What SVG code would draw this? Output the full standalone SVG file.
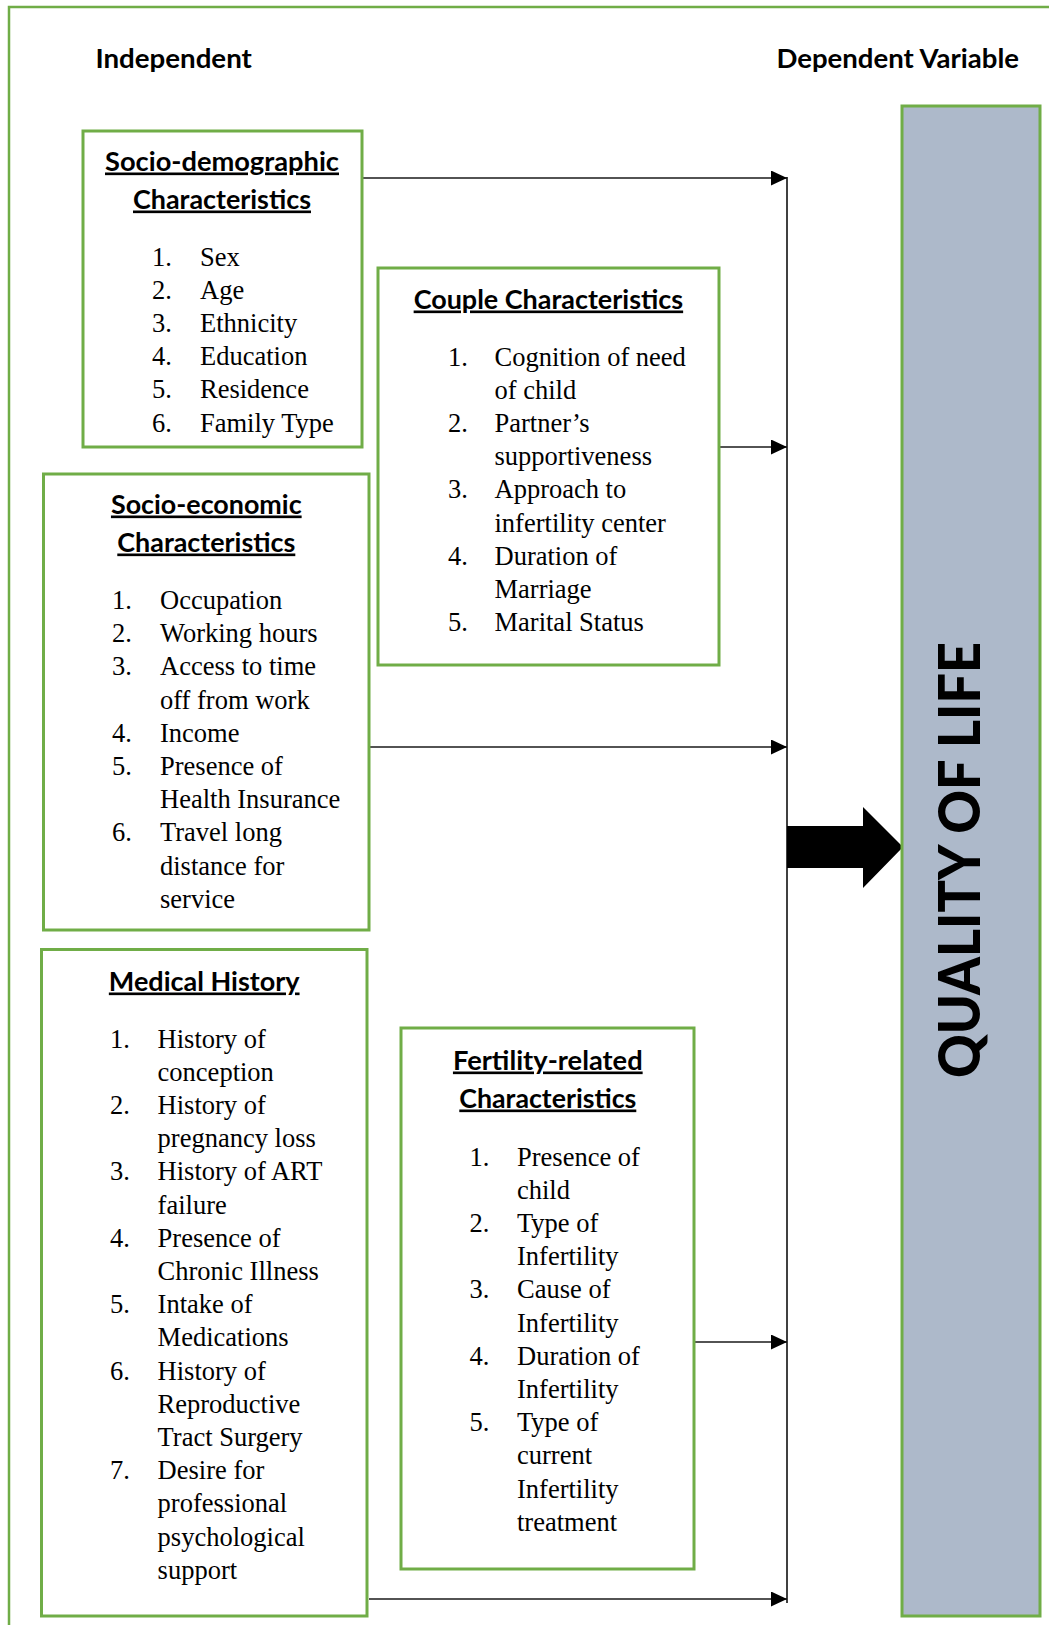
<svg xmlns="http://www.w3.org/2000/svg" width="1049" height="1625" viewBox="0 0 1049 1625">
  <defs>
    <style>
      .box { fill: #ffffff; stroke: #70AD47; stroke-width: 3; }
      .frame { fill: none; stroke: #70AD47; stroke-width: 2.5; }
      .head { font-family: Lato, "Open Sans", "Liberation Sans", sans-serif; font-weight: bold; font-size: 26.5px; fill: #000; }
      .ul { text-decoration: underline; }
      .item { font-family: "Liberation Serif", "Times New Roman", serif; font-size: 26.5px; fill: #000; }
      .conn { stroke: #1a1a1a; stroke-width: 1.6; fill: none; }
      .spine { stroke: #404040; stroke-width: 2; fill: none; }
      .qol { font-family: Lato, "Open Sans", "Liberation Sans", sans-serif; font-weight: 900; font-size: 58px; fill: #000; }
    </style>
    <marker id="arrow" markerUnits="userSpaceOnUse" markerWidth="17" markerHeight="16" refX="16" refY="7.5" orient="auto">
      <path d="M0,0 L16,7.5 L0,15 Z" fill="#000"/>
    </marker>
  </defs>

  <!-- outer frame -->
  <rect class="frame" x="9" y="7" width="1100" height="1700"/>

  <!-- column titles -->
  <text class="head" x="95.4" y="68" textLength="156.5" lengthAdjust="spacingAndGlyphs">Independent</text>
  <text class="head" x="776.4" y="68" textLength="242.6" lengthAdjust="spacingAndGlyphs">Dependent Variable</text>

  <!-- connectors -->
  <g id="connectors">
    <line class="spine" x1="787" y1="177" x2="787" y2="1603"/>
    <line class="conn" x1="362" y1="178" x2="787" y2="178" marker-end="url(#arrow)"/>
    <line class="conn" x1="719" y1="447" x2="787" y2="447" marker-end="url(#arrow)"/>
    <line class="conn" x1="369" y1="747" x2="787" y2="747" marker-end="url(#arrow)"/>
    <line class="conn" x1="694" y1="1342" x2="787" y2="1342" marker-end="url(#arrow)"/>
    <line class="conn" x1="369" y1="1599" x2="787" y2="1599" marker-end="url(#arrow)"/>
    <polygon points="787,826 863,826 863,807 903,847 863,888 863,868 787,868" fill="#000"/>
  </g>

  <!-- socio-demographic -->
  <g id="socio-demographic">
    <rect class="box" x="83" y="131" width="279" height="316"/>
    <text class="head ul" x="222" y="170.5" text-anchor="middle" textLength="234" lengthAdjust="spacingAndGlyphs">Socio-demographic</text>
    <text class="head ul" x="222" y="208.5" text-anchor="middle" textLength="178" lengthAdjust="spacingAndGlyphs">Characteristics</text>
    <text class="item">
      <tspan x="152" y="265.5">1.</tspan><tspan x="200" y="265.5">Sex</tspan>
      <tspan x="152" y="298.7">2.</tspan><tspan x="200" y="298.7">Age</tspan>
      <tspan x="152" y="331.9">3.</tspan><tspan x="200" y="331.9">Ethnicity</tspan>
      <tspan x="152" y="365.1">4.</tspan><tspan x="200" y="365.1">Education</tspan>
      <tspan x="152" y="398.3">5.</tspan><tspan x="200" y="398.3">Residence</tspan>
      <tspan x="152" y="431.5">6.</tspan><tspan x="200" y="431.5">Family Type</tspan>
    </text>
  </g>

  <!-- couple characteristics -->
  <g id="couple">
    <rect class="box" x="378" y="268" width="341" height="397"/>
    <text class="head ul" x="548.4" y="308.5" text-anchor="middle" textLength="269.5" lengthAdjust="spacingAndGlyphs">Couple Characteristics</text>
    <text class="item">
      <tspan x="448" y="365.5">1.</tspan><tspan x="494.5" y="365.5">Cognition of need</tspan>
      <tspan x="494.5" y="398.7">of child</tspan>
      <tspan x="448" y="431.9">2.</tspan><tspan x="494.5" y="431.9">Partner’s</tspan>
      <tspan x="494.5" y="465.1">supportiveness</tspan>
      <tspan x="448" y="498.3">3.</tspan><tspan x="494.5" y="498.3">Approach to</tspan>
      <tspan x="494.5" y="531.5">infertility center</tspan>
      <tspan x="448" y="564.7">4.</tspan><tspan x="494.5" y="564.7">Duration of</tspan>
      <tspan x="494.5" y="597.9">Marriage</tspan>
      <tspan x="448" y="631.1">5.</tspan><tspan x="494.5" y="631.1">Marital Status</tspan>
    </text>
  </g>

  <!-- socio-economic -->
  <g id="socio-economic">
    <rect class="box" x="43.5" y="474" width="325.5" height="456"/>
    <text class="head ul" x="206.3" y="513.5" text-anchor="middle" textLength="190.7" lengthAdjust="spacingAndGlyphs">Socio-economic</text>
    <text class="head ul" x="206.3" y="551.5" text-anchor="middle" textLength="178" lengthAdjust="spacingAndGlyphs">Characteristics</text>
    <text class="item">
      <tspan x="112" y="609">1.</tspan><tspan x="160" y="609">Occupation</tspan>
      <tspan x="112" y="642.2">2.</tspan><tspan x="160" y="642.2">Working hours</tspan>
      <tspan x="112" y="675.4">3.</tspan><tspan x="160" y="675.4">Access to time</tspan>
      <tspan x="160" y="708.6">off from work</tspan>
      <tspan x="112" y="741.8">4.</tspan><tspan x="160" y="741.8">Income</tspan>
      <tspan x="112" y="775">5.</tspan><tspan x="160" y="775">Presence of</tspan>
      <tspan x="160" y="808.2">Health Insurance</tspan>
      <tspan x="112" y="841.4">6.</tspan><tspan x="160" y="841.4">Travel long</tspan>
      <tspan x="160" y="874.6">distance for</tspan>
      <tspan x="160" y="907.8">service</tspan>
    </text>
  </g>

  <!-- medical history -->
  <g id="medical-history">
    <rect class="box" x="41.5" y="949.5" width="325.5" height="666.5"/>
    <text class="head ul" x="204.2" y="990.5" text-anchor="middle" textLength="190.7" lengthAdjust="spacingAndGlyphs">Medical History</text>
    <text class="item">
      <tspan x="110" y="1047.5">1.</tspan><tspan x="157.6" y="1047.5">History of</tspan>
      <tspan x="157.6" y="1080.7">conception</tspan>
      <tspan x="110" y="1113.9">2.</tspan><tspan x="157.6" y="1113.9">History of</tspan>
      <tspan x="157.6" y="1147.1">pregnancy loss</tspan>
      <tspan x="110" y="1180.3">3.</tspan><tspan x="157.6" y="1180.3">History of ART</tspan>
      <tspan x="157.6" y="1213.5">failure</tspan>
      <tspan x="110" y="1246.7">4.</tspan><tspan x="157.6" y="1246.7">Presence of</tspan>
      <tspan x="157.6" y="1279.9">Chronic Illness</tspan>
      <tspan x="110" y="1313.1">5.</tspan><tspan x="157.6" y="1313.1">Intake of</tspan>
      <tspan x="157.6" y="1346.3">Medications</tspan>
      <tspan x="110" y="1379.5">6.</tspan><tspan x="157.6" y="1379.5">History of</tspan>
      <tspan x="157.6" y="1412.7">Reproductive</tspan>
      <tspan x="157.6" y="1445.9">Tract Surgery</tspan>
      <tspan x="110" y="1479.1">7.</tspan><tspan x="157.6" y="1479.1">Desire for</tspan>
      <tspan x="157.6" y="1512.3">professional</tspan>
      <tspan x="157.6" y="1545.5">psychological</tspan>
      <tspan x="157.6" y="1578.7">support</tspan>
    </text>
  </g>

  <!-- fertility-related -->
  <g id="fertility-related">
    <rect class="box" x="401" y="1028" width="293" height="541"/>
    <text class="head ul" x="547.8" y="1069.5" text-anchor="middle" textLength="189.7" lengthAdjust="spacingAndGlyphs">Fertility-related</text>
    <text class="head ul" x="547.8" y="1107.5" text-anchor="middle" textLength="177" lengthAdjust="spacingAndGlyphs">Characteristics</text>
    <text class="item">
      <tspan x="469.6" y="1165.5">1.</tspan><tspan x="517" y="1165.5">Presence of</tspan>
      <tspan x="517" y="1198.7">child</tspan>
      <tspan x="469.6" y="1231.9">2.</tspan><tspan x="517" y="1231.9">Type of</tspan>
      <tspan x="517" y="1265.1">Infertility</tspan>
      <tspan x="469.6" y="1298.3">3.</tspan><tspan x="517" y="1298.3">Cause of</tspan>
      <tspan x="517" y="1331.5">Infertility</tspan>
      <tspan x="469.6" y="1364.7">4.</tspan><tspan x="517" y="1364.7">Duration of</tspan>
      <tspan x="517" y="1397.9">Infertility</tspan>
      <tspan x="469.6" y="1431.1">5.</tspan><tspan x="517" y="1431.1">Type of</tspan>
      <tspan x="517" y="1464.3">current</tspan>
      <tspan x="517" y="1497.5">Infertility</tspan>
      <tspan x="517" y="1530.7">treatment</tspan>
    </text>
  </g>

  <!-- dependent variable -->
  <g id="quality-of-life">
    <rect x="902" y="106" width="138" height="1510" fill="#ADB9CA" stroke="#70AD47" stroke-width="3"/>
    <text class="qol" x="980" y="860" text-anchor="middle" textLength="436" lengthAdjust="spacingAndGlyphs" transform="rotate(-90 980 860)">QUALITY OF LIFE</text>
  </g>
</svg>
